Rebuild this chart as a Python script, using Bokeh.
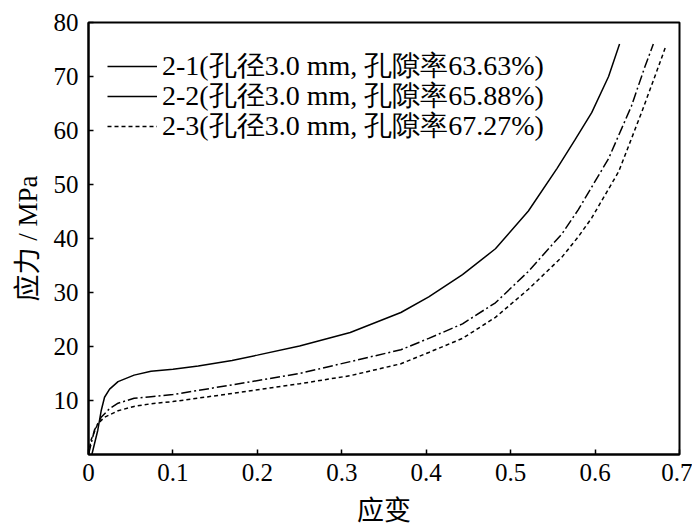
from bokeh.plotting import figure
from bokeh.models import Range1d, FixedTicker, Legend, LegendItem
from bokeh.embed import file_html
from bokeh.resources import INLINE

# ---- data ----
strain_21 = [0.004, 0.011, 0.015, 0.019, 0.025, 0.035, 0.054, 0.074, 0.100, 0.130,
             0.170, 0.200, 0.250, 0.310, 0.370, 0.403, 0.443, 0.482, 0.521, 0.555,
             0.576, 0.596, 0.616, 0.629]
stress_21 = [0.0, 4.5, 8.1, 10.6, 12.1, 13.5, 14.7, 15.4, 15.8, 16.4,
             17.4, 18.4, 20.1, 22.6, 26.3, 29.2, 33.3, 38.1, 45.1, 53.0,
             58.2, 63.3, 70.0, 76.0]

strain_22 = [0.000, 0.007, 0.015, 0.025, 0.035, 0.054, 0.074, 0.100, 0.170, 0.250,
             0.310, 0.370, 0.403, 0.443, 0.482, 0.521, 0.561, 0.580, 0.616, 0.643,
             0.659, 0.669]
stress_22 = [0.0, 4.5, 6.9, 8.5, 9.5, 10.4, 10.7, 11.1, 12.9, 15.0,
             17.2, 19.4, 21.5, 24.2, 28.1, 33.9, 40.9, 45.3, 54.8, 64.5,
             71.8, 76.0]

strain_23 = [0.000, 0.003, 0.011, 0.019, 0.035, 0.054, 0.074, 0.100, 0.170, 0.250,
             0.310, 0.370, 0.403, 0.443, 0.482, 0.521, 0.561, 0.580, 0.596, 0.628,
             0.655, 0.675, 0.684]
stress_23 = [0.0, 2.7, 5.7, 6.9, 8.1, 8.9, 9.4, 9.8, 11.3, 13.1,
             14.6, 16.8, 18.9, 21.5, 25.4, 30.6, 36.6, 40.3, 43.8, 52.4,
             63.3, 71.8, 75.7]

labels = ["2-1(孔径3.0 mm, 孔隙率63.63%)",
          "2-2(孔径3.0 mm, 孔隙率65.88%)",
          "2-3(孔径3.0 mm, 孔隙率67.27%)"]

x_ticks = [0, 0.1, 0.2, 0.3, 0.4, 0.5, 0.6, 0.7]
y_ticks = [10, 20, 30, 40, 50, 60, 70, 80]

LATIN = "Liberation Serif"
MIXED = "Liberation Serif, Noto Sans CJK SC"

p = figure(width=692, height=528, output_backend="svg", toolbar_location=None,
           x_range=Range1d(0, 0.7), y_range=Range1d(0, 80),
           min_border_left=88, min_border_right=13, min_border_top=22, min_border_bottom=67)

p.background_fill_color = "white"
p.border_fill_color = "white"
p.outline_line_color = "black"
p.outline_line_width = 2
p.xgrid.visible = False
p.ygrid.visible = False

for ax in (p.xaxis[0], p.yaxis[0]):
    ax.axis_line_width = 2
    ax.axis_line_color = "black"
    ax.major_tick_in = 5
    ax.major_tick_out = 0
    ax.major_tick_line_width = 1.5
    ax.minor_tick_in = 0
    ax.minor_tick_out = 0
    ax.major_label_text_font = LATIN
    ax.major_label_text_font_size = "25px"
    ax.major_label_text_color = "black"
    ax.axis_label_text_font = MIXED
    ax.axis_label_text_font_size = "27px"
    ax.axis_label_text_font_style = "normal"
    ax.axis_label_text_color = "black"

p.xaxis[0].ticker = FixedTicker(ticks=x_ticks)
p.yaxis[0].ticker = FixedTicker(ticks=y_ticks)
p.xaxis[0].axis_label = "应变"
p.yaxis[0].axis_label = "应力 / MPa"
p.xaxis[0].major_label_standoff = 9
p.yaxis[0].major_label_standoff = 10
p.xaxis[0].axis_label_standoff = 12
p.yaxis[0].axis_label_standoff = 8

r1 = p.line(strain_21, stress_21, line_color="black", line_width=1.5)
r2 = p.line(strain_22, stress_22, line_color="black", line_width=1.5, line_dash="10 3 2 3")
r3 = p.line(strain_23, stress_23, line_color="black", line_width=1.5, line_dash="4 3")

# one legend entry per row so that the rows sit 30px apart as in the reference;
# the reference legend draws the 2-2 sample with a plain solid line
entries = [(labels[0], r1, 369), (labels[1], r1, 339), (labels[2], r3, 309)]
for text, rend, ypos in entries:
    lg = Legend(items=[LegendItem(label=text, renderers=[rend])], location=(19, ypos))
    lg.border_line_color = None
    lg.background_fill_alpha = 0
    lg.padding = 0
    lg.margin = 0
    lg.spacing = 0
    lg.glyph_width = 50
    lg.glyph_height = 30
    lg.label_height = 30
    lg.label_standoff = 5
    lg.label_text_font = LATIN
    lg.label_text_font_size = "28px"
    lg.label_text_color = "black"
    p.add_layout(lg)

open("out.html", "w").write(file_html(p, INLINE))
